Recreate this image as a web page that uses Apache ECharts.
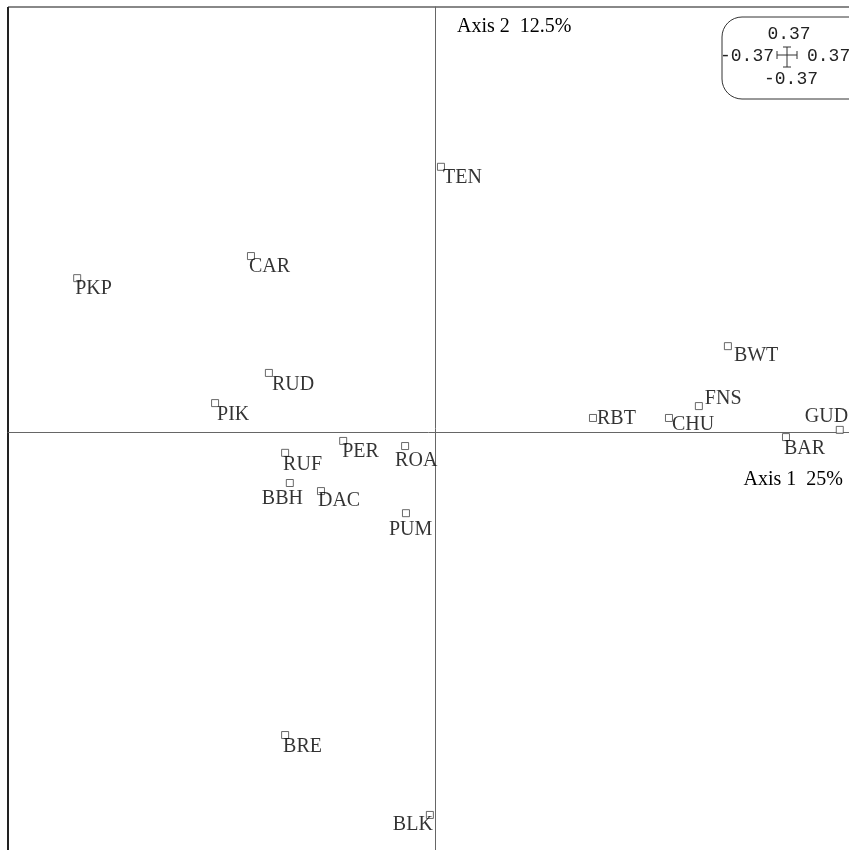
<!DOCTYPE html>
<html>
<head>
<meta charset="utf-8">
<script src="https://cdn.jsdelivr.net/npm/echarts@6/dist/echarts.min.js"></script>
<style>html,body{margin:0;padding:0;background:#fff}#c{width:849px;height:850px}</style>
</head>
<body>
<div id="c"></div>
<script>
const labels = ['TEN','CAR','PKP','RUD','PIK','BWT','FNS','RBT','CHU','GUD','BAR','PER','ROA','RUF','BBH','DAC','PUM','BRE','BLK'];
const axis1 = [0.014,-0.431,-0.838,-0.389,-0.515,0.686,0.618,0.370,0.548,0.948,0.822,-0.215,-0.070,-0.351,-0.340,-0.267,-0.068,-0.351,-0.012];
const axis2 = [0.624,0.414,0.362,0.139,0.068,0.202,0.061,0.033,0.033,0.005,-0.012,-0.021,-0.033,-0.049,-0.120,-0.139,-0.191,-0.713,-0.901];
const axisTitles = ['Axis 1  25%', 'Axis 2  12.5%'];
const gridScale = ['0.37', '-0.37', '-0.37', '0.37'];
const xRange = [-1, 0.9696];
const yRange = [-0.9835, 1];

// label offsets (px) relative to the point marker
const labelOffset = {
  TEN:[2,11], CAR:[-2,11], PKP:[-2,11], RUD:[3,12], PIK:[2,12], BWT:[6,10], FNS:[6,-7],
  RBT:[4,1], CHU:[3,7], GUD:[-35,-13], BAR:[-2,12], PER:[-1,11], ROA:[-10,15],
  RUF:[-2,12], BBH:[-28,16], DAC:[-3,10], PUM:[-17,17], BRE:[-2,12], BLK:[-37,10]
};

const serif = "'Liberation Serif','DejaVu Serif',serif";
const mono = "'Liberation Mono','DejaVu Sans Mono',monospace";

const data = labels.map((n, i) => ({
  name: n,
  value: [axis1[i], axis2[i]],
  label: { offset: labelOffset[n] }
}));

const chart = echarts.init(document.getElementById('c'), null, {renderer: 'canvas'});
function axisCfg(r) {
  return {
    type: 'value', min: r[0], max: r[1],
    axisLine: { show: true, onZero: true, lineStyle: { color: '#666', width: 1 } },
    axisTick: { show: false }, axisLabel: { show: false }, splitLine: { show: false }
  };
}
chart.setOption({
  animation: false,
  grid: { left: 8, top: 7, right: 0, bottom: 0, containLabel: false },
  xAxis: axisCfg(xRange),
  yAxis: axisCfg(yRange),
  series: [{
    type: 'scatter',
    symbol: 'rect',
    symbolSize: 7,
    itemStyle: { color: '#fff', borderColor: '#444', borderWidth: 1 },
    label: {
      show: true, position: 'inside', formatter: '{b}',
      align: 'left', verticalAlign: 'middle',
      color: '#000', textBorderWidth: 0, fontFamily: serif, fontSize: 20
    },
    data: data
  }],
  graphic: [
    { type: 'line', shape: { x1: 8, y1: 7, x2: 849, y2: 7 }, style: { stroke: '#888', lineWidth: 2 } },
    { type: 'line', shape: { x1: 8, y1: 7, x2: 8, y2: 850 }, style: { stroke: '#222', lineWidth: 2 } },
    { type: 'text', x: 843, y: 480, style: { text: axisTitles[0], font: '20px ' + serif, fill: '#000', textAlign: 'right', textVerticalAlign: 'middle' } },
    { type: 'text', x: 457, y: 27, style: { text: axisTitles[1], font: '20px ' + serif, fill: '#000', textAlign: 'left', textVerticalAlign: 'middle' } },
    { type: 'rect', shape: { x: 722, y: 17, width: 160, height: 82, r: 20 }, style: { fill: '#fff', stroke: '#333', lineWidth: 1 } },
    { type: 'text', x: 789, y: 34, style: { text: gridScale[0], font: '18px ' + mono, fill: '#222', textAlign: 'center', textVerticalAlign: 'middle' } },
    { type: 'text', x: 791, y: 79, style: { text: gridScale[1], font: '18px ' + mono, fill: '#222', textAlign: 'center', textVerticalAlign: 'middle' } },
    { type: 'text', x: 774, y: 56, style: { text: gridScale[2], font: '18px ' + mono, fill: '#222', textAlign: 'right', textVerticalAlign: 'middle' } },
    { type: 'text', x: 807, y: 56, style: { text: gridScale[3], font: '18px ' + mono, fill: '#222', textAlign: 'left', textVerticalAlign: 'middle' } },
    { type: 'line', shape: { x1: 777, y1: 55, x2: 797, y2: 55 }, style: { stroke: '#333', lineWidth: 1 } },
    { type: 'line', shape: { x1: 787, y1: 47, x2: 787, y2: 67 }, style: { stroke: '#333', lineWidth: 1 } },
    { type: 'line', shape: { x1: 777, y1: 51, x2: 777, y2: 59 }, style: { stroke: '#333', lineWidth: 1 } },
    { type: 'line', shape: { x1: 797, y1: 51, x2: 797, y2: 59 }, style: { stroke: '#333', lineWidth: 1 } },
    { type: 'line', shape: { x1: 783, y1: 47, x2: 791, y2: 47 }, style: { stroke: '#333', lineWidth: 1 } },
    { type: 'line', shape: { x1: 783, y1: 67, x2: 791, y2: 67 }, style: { stroke: '#333', lineWidth: 1 } }
  ]
});
</script>
</body>
</html>
